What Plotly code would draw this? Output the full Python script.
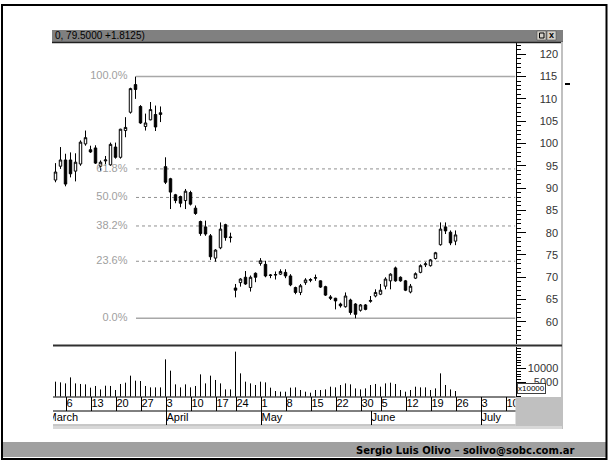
import plotly.graph_objects as go
import pandas as pd

W, H = 609, 461

# ---------------- data ----------------
opens = [91.8, 94.9, 96.3, 96.3, 93.8, 95.4, 99.9, 98.6, 99.0, 94.9,
         96.1, 95.2, 99.2, 96.9, 102.9, 107.0, 113.2, 108.3, 103.8, 105.3,
         106.5, 106.5, 94.8, 92.1, 88.5, 88.1, 87.2, 89.0, 85.5, 82.5,
         81.3, 79.3, 74.3, 76.6, 81.8, 78.9, 67.6, 68.8, 70.0, 67.7,
         70.9, 73.1, 72.9, 70.4, 70.5, 70.7, 71.1, 70.3, 67.7, 66.6,
         68.8, 69.3, 69.8, 69.2, 67.9, 65.6, 65.3, 64.0, 63.4, 64.9,
         64.0, 62.6, 63.8, 64.6, 65.8, 66.2, 68.0, 69.2, 72.1, 70.0,
         69.2, 66.7, 69.8, 71.1, 72.8, 72.6, 74.2, 77.3, 81.3, 80.1,
         78.1]
highs = [95.6, 99.2, 97.7, 98.0, 97.8, 100.7, 102.9, 99.5, 99.6, 96.2,
         97.2, 100.2, 100.2, 103.3, 105.9, 112.5, 115.0, 108.6, 106.7, 109.3,
         108.5, 108.3, 96.9, 92.3, 88.7, 88.3, 89.8, 89.4, 86.1, 82.7,
         82.7, 79.7, 76.3, 82.3, 82.0, 80.0, 68.5, 69.8, 71.4, 70.4,
         71.1, 74.3, 73.7, 70.7, 71.3, 71.8, 71.8, 70.7, 67.9, 68.5,
         69.8, 69.8, 70.6, 69.3, 68.1, 66.0, 65.4, 64.3, 66.6, 65.2,
         64.2, 64.0, 64.0, 65.8, 67.3, 68.5, 70.0, 70.9, 72.4, 70.2,
         69.4, 68.5, 71.1, 72.9, 73.4, 74.1, 75.7, 82.3, 82.3, 80.5,
         80.5]
lows = [91.3, 94.3, 90.4, 92.4, 91.5, 95.0, 99.5, 97.9, 95.4, 93.9,
        95.0, 95.0, 96.6, 96.6, 101.4, 106.7, 110.0, 104.4, 102.9, 105.2,
        102.8, 104.8, 90.9, 85.3, 86.6, 85.7, 85.3, 86.1, 84.0, 79.3,
        79.3, 73.9, 73.5, 76.3, 78.2, 77.8, 65.5, 67.9, 68.3, 66.8,
        68.9, 72.6, 70.0, 69.8, 69.5, 70.5, 69.8, 68.0, 66.2, 66.0,
        68.3, 68.9, 69.2, 67.6, 65.8, 64.9, 62.8, 63.2, 63.2, 61.6,
        60.8, 62.3, 62.6, 64.3, 65.5, 66.0, 67.3, 67.3, 69.0, 69.0,
        66.9, 66.4, 69.6, 70.9, 72.3, 72.4, 74.0, 77.1, 79.7, 77.2,
        77.2]
closes = [93.6, 96.3, 90.9, 93.2, 95.8, 100.3, 101.3, 98.1, 95.6, 95.8,
          96.3, 99.8, 96.9, 103.2, 103.6, 112.3, 112.1, 104.6, 104.6, 107.6,
          103.7, 106.9, 91.3, 89.1, 87.2, 86.6, 89.3, 86.4, 84.3, 79.8,
          79.7, 74.6, 76.1, 80.8, 78.9, 79.0, 67.1, 69.6, 68.5, 70.0,
          70.0, 73.7, 70.3, 70.5, 70.6, 71.3, 70.3, 68.3, 66.6, 68.1,
          69.4, 69.5, 69.9, 67.8, 66.0, 65.3, 64.7, 63.6, 65.8, 62.1,
          61.7, 63.8, 62.8, 64.8, 66.6, 67.1, 69.6, 70.7, 69.2, 69.2,
          67.1, 68.0, 70.8, 72.6, 73.0, 73.9, 75.5, 80.8, 80.4, 77.7,
          79.5]
volume = [5330, 5080, 4720, 6850, 4720, 4510, 4370, 3200, 3800, 2590,
          3900, 3800, 2380, 4510, 4970, 7460, 5680, 5570, 3800, 3300,
          3300, 3300, 13240, 9230, 4370, 3300, 4370, 3300, 3800, 7920,
          4720, 7460, 5930, 4720, 2590, 2590, 15980, 8270, 5330, 4720,
          4150, 5330, 5080, 3200, 2020, 1780, 1780, 3200, 3300, 2380,
          1780, 1420, 2380, 2380, 2590, 3550, 3300, 4150, 4720, 4370,
          2950, 2590, 2950, 4150, 4510, 3550, 4720, 4970, 4510, 2380,
          1780, 2380, 3550, 3300, 3300, 2380, 2950, 8270, 4150, 2590,
          2020]

# trading calendar (holidays Good Friday and Memorial Day removed)
calendar = [d.strftime("%Y-%m-%d") for d in pd.bdate_range("2000-03-02", "2000-07-14")
            if d.strftime("%Y-%m-%d") not in ("2000-04-21", "2000-05-29")]
dates = calendar[:len(closes)]

week_dates = ["2000-03-06", "2000-03-13", "2000-03-20", "2000-03-27", "2000-04-03",
              "2000-04-10", "2000-04-17", "2000-04-24", "2000-05-01", "2000-05-08",
              "2000-05-15", "2000-05-22", "2000-05-30", "2000-06-05", "2000-06-12",
              "2000-06-19", "2000-06-26", "2000-07-03", "2000-07-10"]
week_labels = ["6", "13", "20", "27", "3", "10", "17", "24", "1", "8", "15", "22",
               "30", "5", "12", "19", "26", "3", "10"]
month_dates = ["2000-04-03", "2000-05-01", "2000-06-01", "2000-07-03"]
month_labels = ["April", "May", "June", "July"]
first_month_label = "March"

fib_levels = [1.0, 0.618, 0.5, 0.382, 0.236, 0.0]
fib_labels = ["100.0%", "61.8%", "50.0%", "38.2%", "23.6%", "0.0%"]

title_text = "0, 79.5000 +1.8125)"
footer_text = "Sergio Luis Olivo \u2013 solivo@sobc.com.ar"

# ---------------- geometry helpers ----------------
def px(x):
    return x / W

def py(y):
    return 1 - y / H

X0, X1 = 53, 515.5          # plot left / axis line
PX_PER_DAY = 5.0
FIRST_X = 55.5
xr = [(X0 - FIRST_X) / PX_PER_DAY, (X1 - FIRST_X) / PX_PER_DAY]

idx = list(range(len(dates)))
week_idx = [calendar.index(d) for d in week_dates]
month_idx = [calendar.index(d) for d in month_dates]

FONT = "Liberation Sans, Arial, sans-serif"

hi = max(highs)
lo = min(lows)
hi_i = highs.index(hi)
fib_vals = [lo + lev * (hi - lo) for lev in fib_levels]

fig = go.Figure()

# fibonacci labels (drawn first so the candles sit on top of them)
fig.add_trace(go.Scatter(
    x=[hi_i - 1.6] * len(fib_vals), y=fib_vals, text=fib_labels,
    mode="text", textposition="middle left", cliponaxis=False,
    textfont=dict(family=FONT, size=11, color="#a0a0a0"),
    xaxis="x", yaxis="y", showlegend=False, hoverinfo="skip"))

fig.add_trace(go.Candlestick(
    x=idx, open=opens, high=highs, low=lows, close=closes,
    increasing=dict(line=dict(color="black", width=1), fillcolor="white"),
    decreasing=dict(line=dict(color="black", width=1), fillcolor="black"),
    whiskerwidth=0, xaxis="x", yaxis="y", showlegend=False, hoverinfo="skip"))

# volume as thin vertical lines
vx, vy = [], []
for i, v in zip(idx, volume):
    vx += [i, i, None]
    vy += [0, v, None]
fig.add_trace(go.Scatter(
    x=vx, y=vy, mode="lines", line=dict(color="black", width=1),
    xaxis="x2", yaxis="y2", showlegend=False, hoverinfo="skip"))

# day labels and month labels in the date strip
fig.add_trace(go.Scatter(
    x=[i + 0.2 for i in week_idx], y=[1.5] * len(week_idx), text=week_labels,
    mode="text", textposition="middle right", cliponaxis=True,
    textfont=dict(family=FONT, size=11, color="black"),
    xaxis="x3", yaxis="y3", showlegend=False, hoverinfo="skip"))
fig.add_trace(go.Scatter(
    x=[-1.6] + [i + 0.2 for i in month_idx], y=[0.5] * (len(month_idx) + 1),
    text=[first_month_label] + month_labels,
    mode="text", textposition="middle right", cliponaxis=True,
    textfont=dict(family=FONT, size=11, color="black"),
    xaxis="x3", yaxis="y3", showlegend=False, hoverinfo="skip"))

# ---------------- shapes ----------------
shapes = []
annotations = []

def rect(x0, y0, x1, y1, fill, line_color=None, lw=0, layer="above"):
    shapes.append(dict(type="rect", xref="paper", yref="paper",
                       x0=px(x0), x1=px(x1), y0=py(y0), y1=py(y1),
                       fillcolor=fill, layer=layer,
                       line=dict(color=line_color or fill, width=lw)))

def hline(x0, x1, y, color, lw=1, dash="solid", layer="above"):
    shapes.append(dict(type="line", xref="paper", yref="paper",
                       x0=px(x0), x1=px(x1), y0=py(y), y1=py(y), layer=layer,
                       line=dict(color=color, width=lw, dash=dash)))

def vline(x, y0, y1, color, lw=1, layer="above"):
    shapes.append(dict(type="line", xref="paper", yref="paper",
                       x0=px(x), x1=px(x), y0=py(y0), y1=py(y1), layer=layer,
                       line=dict(color=color, width=lw)))

# footer bar
rect(3, 442, 606, 457, "#a0a0a0", layer="below")
# outer frame
shapes.append(dict(type="rect", xref="paper", yref="paper", x0=px(2), x1=px(606.5),
                   y0=py(5), y1=py(459), line=dict(color="black", width=2)))
# title bar
rect(52, 30, 563, 42, "#808080")
hline(52, 563, 42.5, "#202020", 1.5)
rect(537, 31, 546, 40, "#d4d0c8", "#404040", 0.5)
rect(539.5, 33, 544, 38, "#d4d0c8", "#000000", 1)
rect(547, 31, 556, 40, "#d4d0c8", "#404040", 0.5)
# right window border
vline(562, 42, 429, "#c0c0c0", 2)
# separator price / volume
hline(53, 562, 345.5, "#303030", 2)
# date strip
rect(515.5, 397, 562, 428, "#c0c0c0")
hline(53, 515.5, 397, "black", 1)
hline(53, 515.5, 411, "black", 1)
hline(53, 515.5, 425, "#909090", 1)
rect(53, 426, 562, 429, "#d8d8d8")
for wi in week_idx:
    shapes.append(dict(type="line", xref="x3", yref="paper", x0=wi + 0.2, x1=wi + 0.2,
                       y0=py(397), y1=py(411), line=dict(color="black", width=1)))
for mi in month_idx:
    shapes.append(dict(type="line", xref="x3", yref="paper", x0=mi + 0.2, x1=mi + 0.2,
                       y0=py(411), y1=py(425), line=dict(color="black", width=1)))
# small marker outside right axis
hline(565, 570, 84, "black", 2)

# fibonacci retracement lines
for lev, val in zip(fib_levels, fib_vals):
    solid = lev in (0.0, 1.0)
    shapes.append(dict(type="line", xref="x", yref="y", x0=hi_i + 0.1, x1=xr[1],
                       y0=val, y1=val, layer="below",
                       line=dict(color="#a8a8a8" if solid else "#909090",
                                 width=1.5 if solid else 1,
                                 dash="solid" if solid else "3px,3px")))

annotations.append(dict(xref="paper", yref="paper", x=px(53), y=py(36), text=title_text,
                        showarrow=False, xanchor="left", yanchor="middle",
                        font=dict(family=FONT, size=10, color="black")))
annotations.append(dict(xref="paper", yref="paper", x=px(551.5), y=py(35.5), text="<b>x</b>",
                        showarrow=False, xanchor="center", yanchor="middle",
                        font=dict(family=FONT, size=9, color="black")))
annotations.append(dict(xref="paper", yref="paper", x=px(576), y=py(450), text="<b>" + footer_text + "</b>",
                        showarrow=False, xanchor="right", yanchor="middle",
                        font=dict(family="DejaVu Sans, Verdana, sans-serif", size=10, color="black")))
annotations.append(dict(xref="paper", yref="paper", x=px(516.5), y=py(388.5), text="x10000",
                        showarrow=False, xanchor="left", yanchor="middle",
                        bgcolor="white", bordercolor="#404040", borderwidth=1, borderpad=0,
                        font=dict(family=FONT, size=8, color="black")))

price_ticks = list(range(60, 121, 5))
vol_ticks = [5000, 10000]
FS = "\u2007"

def pad(v, n):
    s = str(v)
    return FS * (n - len(s)) + s

axis_common = dict(showgrid=False, zeroline=False)
fig.update_layout(
    width=W, height=H, autosize=False,
    margin=dict(l=0, r=0, t=0, b=0),
    paper_bgcolor="white", plot_bgcolor="white",
    showlegend=False,
    xaxis=dict(domain=[px(X0), px(X1)], range=xr, anchor="y", showticklabels=False,
               ticks="", showline=False, rangeslider=dict(visible=False), **axis_common),
    yaxis=dict(domain=[py(344), py(43)], range=[55.04, 122.53], anchor="x", side="right",
               showline=True, linecolor="black", linewidth=1,
               ticks="outside", ticklen=9, tickcolor="black", tickwidth=1,
               tickvals=price_ticks, ticktext=[pad(v, 3) for v in price_ticks],
               ticklabelstandoff=12,
               minor=dict(ticks="outside", ticklen=4, dtick=1, tickcolor="black", tickwidth=1),
               tickfont=dict(family=FONT, size=11, color="#333333"), **axis_common),
    xaxis2=dict(domain=[px(X0), px(X1)], range=xr, anchor="y2", matches="x",
                showticklabels=False, ticks="", showline=False, **axis_common),
    yaxis2=dict(domain=[py(396.7), py(347)], range=[0, 17620], anchor="x2", side="right",
                showline=True, linecolor="black", linewidth=1,
                ticks="outside", ticklen=9, tickcolor="black", tickwidth=1,
                tickvals=vol_ticks, ticktext=[pad(v, 5) for v in vol_ticks],
                ticklabelstandoff=0,
                minor=dict(ticks="outside", ticklen=4, dtick=1000, tickcolor="black", tickwidth=1),
                tickfont=dict(family=FONT, size=11, color="#333333"), **axis_common),
    xaxis3=dict(domain=[px(X0), px(X1)], range=xr, anchor="y3", matches="x",
                showticklabels=False, ticks="", showline=False, **axis_common),
    yaxis3=dict(domain=[py(425), py(397)], range=[0, 2], anchor="x3",
                showticklabels=False, ticks="", showline=False, **axis_common),
    shapes=shapes, annotations=annotations,
)

fig.write_html("out.html", config={"displayModeBar": False, "staticPlot": True},
               post_script="document.body.style.margin='0px';document.body.style.overflow='hidden';")
